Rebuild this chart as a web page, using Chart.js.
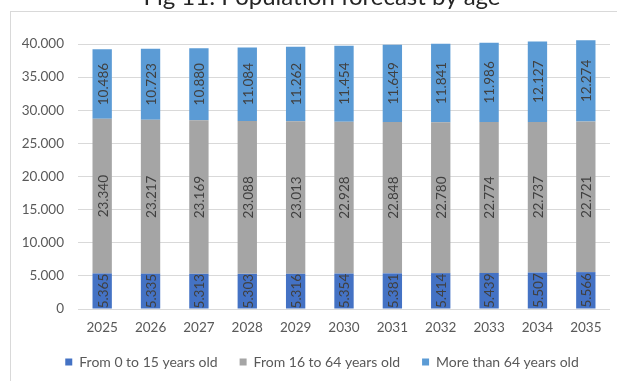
<!DOCTYPE html>
<html>
<head>
<meta charset="utf-8">
<title>Population forecast by age</title>
<script src="https://cdn.jsdelivr.net/npm/chart.js@4.4.1/dist/chart.umd.min.js"></script>
<style>
    html, body { margin: 0; padding: 0; background: #fff; overflow: hidden; }
    #frame {
        position: absolute; left: 10px; top: 11px; width: 700px; height: 500px;
        border-top: 1px solid #d9d9d9; border-left: 1px solid #d9d9d9;
    }
    #wrap { position: absolute; left: 0; top: 0; width: 617px; height: 381px; }
</style>
</head>
<body>
<div id="frame"></div>
<div id="wrap"><canvas id="myChart" width="617" height="381"></canvas></div>
<script>
    const chartTitle = 'Fig 11: Population forecast by age';
    const years = ['2025', '2026', '2027', '2028', '2029', '2030', '2031', '2032', '2033', '2034', '2035'];
    const seriesNames = ['From 0 to 15 years old', 'From 16 to 64 years old', 'More than 64 years old'];
    const age0to15 = [5365, 5335, 5313, 5303, 5316, 5354, 5381, 5414, 5439, 5507, 5566];
    const age16to64 = [23340, 23217, 23169, 23088, 23013, 22928, 22848, 22780, 22774, 22737, 22721];
    const ageOver64 = [10486, 10723, 10880, 11084, 11262, 11454, 11649, 11841, 11986, 12127, 12274];
    const yMin = 0;
    const yMax = 40000;
    const yStep = 5000;

    const seriesColors = ['#4472C4', '#A5A5A5', '#5B9BD5'];
    const fontFamily = "'Lato', 'Liberation Sans', sans-serif";

    // 40000 -> "40.000"
    function FormatThousands(value) {
        return String(value).replace(/\B(?=(\d{3})+(?!\d))/g, '.');
    }

    // rotated value inside every stacked segment
    const valueLabels = {
        id: 'valueLabels',
        afterDatasetsDraw(chart) {
            const ctx = chart.ctx;
            ctx.save();
            ctx.font = '13.5px ' + fontFamily;
            ctx.fillStyle = '#404040';
            ctx.textAlign = 'center';
            ctx.textBaseline = 'middle';
            chart.data.datasets.forEach((ds, i) => {
                chart.getDatasetMeta(i).data.forEach((bar, j) => {
                    let cy = (bar.y + bar.base) / 2;
                    ctx.save();
                    ctx.translate(bar.x, cy);
                    ctx.rotate(-Math.PI / 2);
                    ctx.fillText(FormatThousands(ds.data[j]), 0, 1);
                    ctx.restore();
                });
            });
            ctx.restore();
        }
    };

    // title sits above the frame, partly cut by the top edge
    const topTitle = {
        id: 'topTitle',
        afterDraw(chart) {
            const ctx = chart.ctx;
            ctx.save();
            ctx.font = '24px ' + fontFamily;
            ctx.fillStyle = '#262626';
            ctx.textAlign = 'center';
            ctx.textBaseline = 'alphabetic';
            ctx.fillText(chartTitle, (chart.legend.left + chart.legend.right) / 2, 5);
            ctx.restore();
        }
    };

    // the y labels are clipped to the axis box; let the box reach the canvas edge
    const widenYLabels = {
        id: 'widenYLabels',
        afterLayout(chart) {
            chart.scales.y.left = 0;
        }
    };

    let context = document.getElementById('myChart').getContext('2d');

    const config = {
        type: 'bar',
        data: {
            labels: years,
            datasets: [age0to15, age16to64, ageOver64].map((values, i) => ({
                label: seriesNames[i],
                data: values,
                backgroundColor: seriesColors[i],
                borderWidth: 0,
                barPercentage: 0.4,
                categoryPercentage: 1,
                clip: false
            }))
        },
        options: {
            responsive: false,
            animation: false,
            devicePixelRatio: 1,
            layout: { padding: { left: 34, right: 7, top: 44, bottom: 2 } },
            plugins: {
                legend: {
                    display: true,
                    position: 'bottom',
                    labels: {
                        boxWidth: 7,
                        boxHeight: 7,
                        padding: 22,
                        color: '#595959',
                        font: { size: 14, family: fontFamily }
                    }
                },
                tooltip: { enabled: false },
                title: { display: false }
            },
            scales: {
                x: {
                    stacked: true,
                    grid: { display: false, drawTicks: false },
                    border: { display: false },
                    ticks: {
                        color: '#595959',
                        padding: 12,
                        maxRotation: 0,
                        font: { size: 13.5, family: fontFamily, lineHeight: 1 }
                    },
                    afterFit: function (scale) { scale.height = 24; }
                },
                y: {
                    stacked: true,
                    min: yMin,
                    max: yMax,
                    grid: { color: '#D9D9D9', drawTicks: false, lineWidth: 1 },
                    border: { display: false },
                    ticks: {
                        stepSize: yStep,
                        color: '#595959',
                        padding: 14,
                        font: { size: 13.5, family: fontFamily },
                        callback: function (value) { return FormatThousands(value); }
                    },
                    afterFit: function (scale) { scale.width = 44; }
                }
            }
        },
        plugins: [valueLabels, topTitle, widenYLabels]
    };

    try {
        new Chart(context, config);
    } catch (error) {
        console.error('chart error:', error);
    }
</script>
</body>
</html>
